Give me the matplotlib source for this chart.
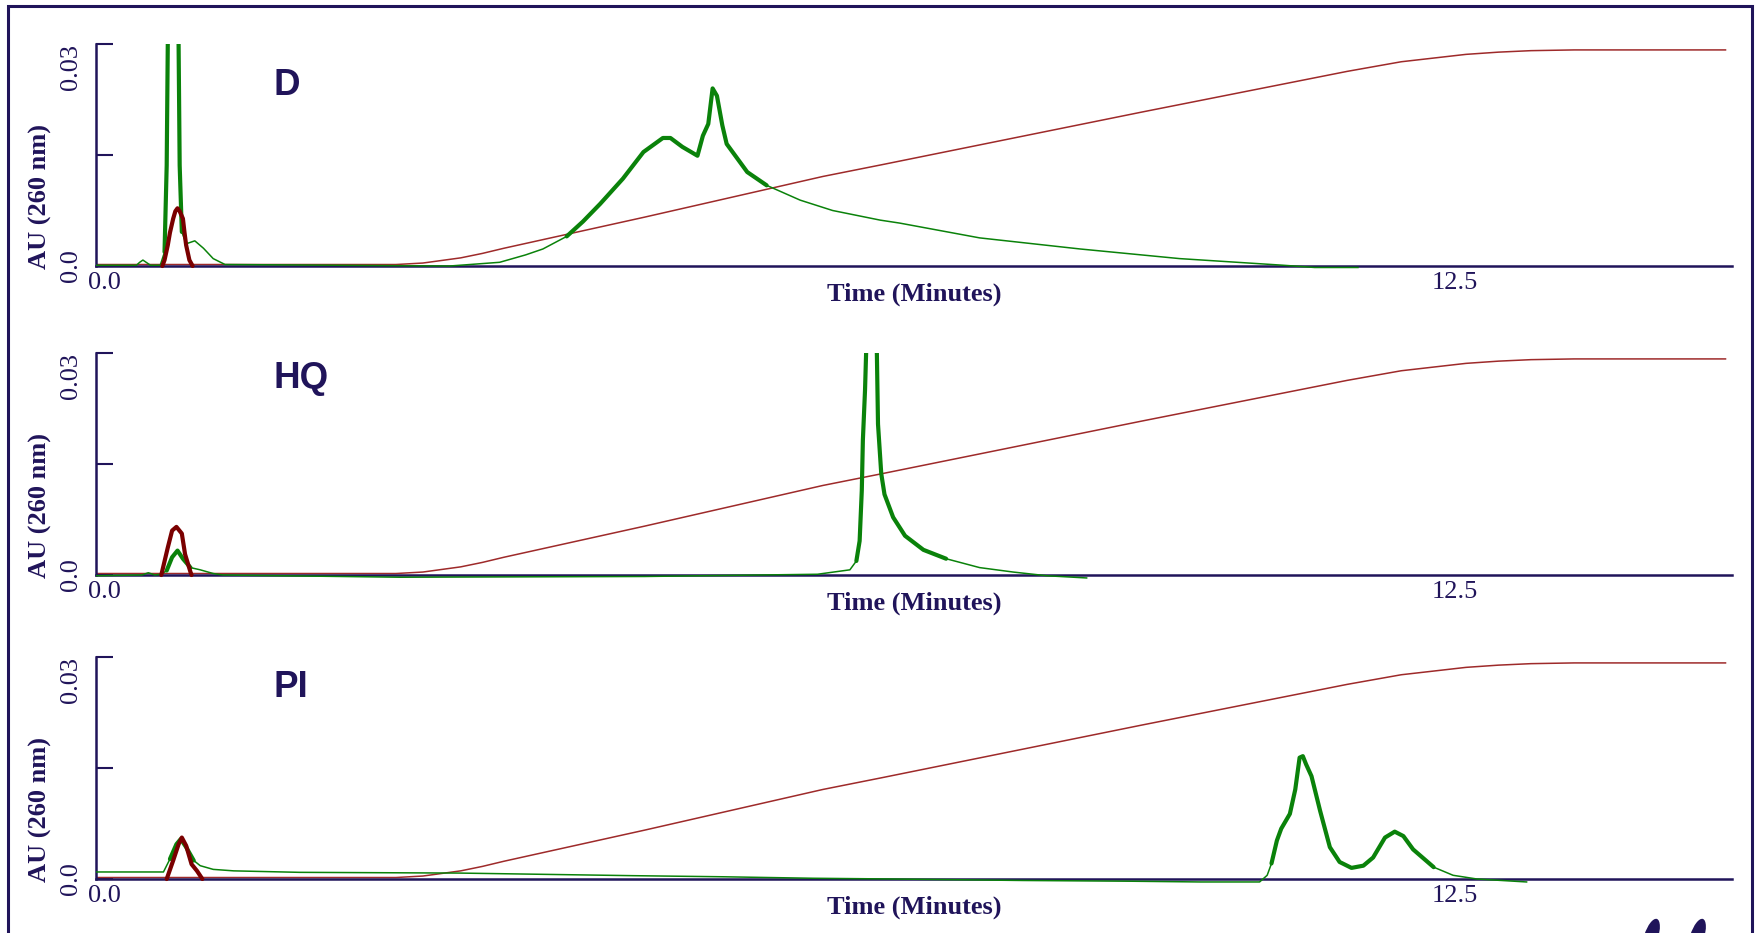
import matplotlib
matplotlib.use("Agg")
import matplotlib.pyplot as plt
import matplotlib.transforms as mtransforms
from matplotlib.patches import Rectangle, Ellipse
import numpy as np

NAVY = "#20145a"
GREEN = "#0a820a"
MAROON = "#7a0000"
GRAD = "#9e2a2a"

panel_names = ["D", "HQ", "PI"]
xtick_values = [0.0, 12.5]
xtick_labels = ["0.0", "12.5"]
ytick_values = [0.0, 0.015, 0.03]
ytick_labels = ["0.0", "", "0.03"]

# % B gradient trace, same run in every panel (plotted on the AU scale)
grad_t = [-0.07, 2.7, 2.95, 3.1, 3.3, 3.5, 3.7, 5.0, 6.65, 7.2, 9.6, 11.5, 12.0, 12.3,
          12.6, 12.9, 13.2, 13.6, 15.0]
grad_au = [0.0002, 0.0002, 0.0004, 0.0007, 0.0011, 0.0017, 0.0024, 0.0066, 0.0121, 0.0137,
           0.0208, 0.0263, 0.0276, 0.0281, 0.0286, 0.0289, 0.0291, 0.0292, 0.0292]

# D
d_green_t = [-0.07, 0.30, 0.33, 0.36, 0.39, 0.43, 0.52, 0.56, 0.58, 0.59, 0.65, 0.69, 0.70,
             0.72, 0.76, 0.84, 0.92, 1.01, 1.12, 3.2, 3.66, 3.9, 4.06, 4.28, 4.43, 4.59,
             4.80, 4.99, 5.17, 5.24, 5.35, 5.49, 5.54, 5.59, 5.63, 5.67, 5.72, 5.76, 5.95,
             6.13, 6.44, 6.74, 7.18, 7.36, 8.10, 9.03, 9.95, 10.91, 11.2, 11.6]
d_green_au = [0.0001, 0.0001, 0.0005, 0.0008, 0.0005, 0.0001, 0.0001, 0.0019, 0.0136, 0.030,
              0.08, 0.030, 0.0136, 0.0046, 0.0030, 0.0034, 0.0024, 0.0010, 0.0002, 0.0,
              0.0005, 0.0015, 0.0023, 0.0040, 0.0060, 0.0084, 0.0118, 0.0154, 0.0173, 0.0173,
              0.0161, 0.0149, 0.0176, 0.0192, 0.0240, 0.0230, 0.0190, 0.0165, 0.0127, 0.0109,
              0.0089, 0.0075, 0.0062, 0.0058, 0.0038, 0.0023, 0.0010, 0.0001, -0.0002, -0.0002]
d_red_t = [0.54, 0.56, 0.59, 0.61, 0.64, 0.66, 0.68, 0.70, 0.73, 0.745, 0.76, 0.79, 0.82]
d_red_au = [0.0, 0.0008, 0.0028, 0.0045, 0.0064, 0.0074, 0.0078, 0.0074, 0.0064, 0.0045,
            0.0028, 0.0008, 0.0]
d_peaks = [(0.55, 0.72), (4.1, 6.15)]

# HQ
hq_green_t = [-0.07, 0.35, 0.41, 0.47, 0.53, 0.58, 0.63, 0.68, 0.73, 0.80, 0.89, 1.01, 1.10,
              2.74, 5.0, 6.6, 6.90, 6.96, 6.99, 7.01, 7.02, 7.04, 7.05, 7.10, 7.15, 7.16,
              7.19, 7.22, 7.30, 7.41, 7.58, 7.79, 8.10, 8.41, 8.72, 9.09]
hq_green_au = [-0.0001, 0.0, 0.0003, 0.0, 0.0001, 0.0006, 0.0024, 0.0033, 0.0022, 0.0010,
               0.0007, 0.0002, 0.0, -0.0003, -0.0002, 0.0001, 0.0007, 0.0019, 0.0046, 0.0114,
               0.0182, 0.0250, 0.0300, 0.07, 0.0295, 0.0204, 0.0137, 0.0109, 0.0078, 0.0053,
               0.0034, 0.0022, 0.0010, 0.0004, -0.0001, -0.0004]
hq_red_t = [0.53, 0.59, 0.63, 0.67, 0.72, 0.75, 0.80, 0.81]
hq_red_au = [0.0, 0.0037, 0.0060, 0.0065, 0.0056, 0.0028, 0.0004, 0.0]
hq_peaks = [(0.56, 0.82), (6.92, 7.97)]

# PI
pi_green_t = [-0.07, 0.55, 0.61, 0.67, 0.71, 0.76, 0.83, 0.89, 1.01, 1.20, 1.81, 3.29, 4.89,
              5.73, 6.56, 7.3, 8.5, 9.5, 10.14, 10.69, 10.76, 10.80, 10.85, 10.89, 10.97,
              11.02, 11.06, 11.09, 11.12, 11.17, 11.25, 11.34, 11.43, 11.54, 11.65, 11.74,
              11.85, 11.94, 12.02, 12.11, 12.30, 12.48, 12.70, 13.16]
pi_green_au = [0.00095, 0.00095, 0.0027, 0.0047, 0.0054, 0.0043, 0.0025, 0.0018, 0.0013,
               0.0011, 0.0009, 0.0008, 0.00045, 0.0003, 0.0001, 0.0, -0.0002, -0.0003,
               -0.0004, -0.0004, 0.0005, 0.0021, 0.0052, 0.0068, 0.0088, 0.0121, 0.0164,
               0.0166, 0.0155, 0.0139, 0.0092, 0.0043, 0.0023, 0.0015, 0.0018, 0.0029,
               0.0056, 0.0064, 0.0058, 0.0040, 0.0016, 0.0005, 0.0, -0.0004]
pi_red_t = [0.58, 0.64, 0.69, 0.72, 0.76, 0.81, 0.86, 0.91]
pi_red_au = [0.0, 0.0025, 0.0047, 0.0056, 0.0045, 0.0020, 0.0011, 0.0]
pi_peaks = [(0.58, 0.86), (10.78, 12.45)]

greens = [(d_green_t, d_green_au), (hq_green_t, hq_green_au), (pi_green_t, pi_green_au)]
reds = [(d_red_t, d_red_au), (hq_red_t, hq_red_au), (pi_red_t, pi_red_au)]
peaks = [d_peaks, hq_peaks, pi_peaks]

W, H = 1756, 933
fig = plt.figure(figsize=(W / 100, H / 100), dpi=100)
fig.patch.set_facecolor("white")

serif = "Liberation Serif"
sans = "Liberation Sans"

ymin, ymax = -0.0012, 0.03
px_per_au = 222 / 0.03
ax_h = (ymax - ymin) * px_per_au
tops = [44, 353, 657]
title_drop = [51, 35, 40]
left_px, right_px = 96, 1732

for i, name in enumerate(panel_names):
    top = tops[i]
    ax = fig.add_axes([left_px / W, 1 - (top + ax_h) / H, (right_px - left_px) / W, ax_h / H])
    ax.set_xlim(-0.074, 15.06)
    ax.set_ylim(ymin, ymax)

    ax.plot(grad_t, grad_au, color=GRAD, lw=1.1, zorder=2)

    gt, ga = np.array(greens[i][0]), np.array(greens[i][1])
    ax.plot(gt, ga, color=GREEN, lw=1.1, zorder=3)
    for lo, hi in peaks[i]:
        m = (gt >= lo) & (gt <= hi)
        ax.plot(gt[m], ga[m], color=GREEN, lw=3.0, zorder=4,
                solid_joinstyle="round", solid_capstyle="round")

    ax.plot(reds[i][0], reds[i][1], color=MAROON, lw=3.0, zorder=5,
            solid_joinstyle="round", solid_capstyle="round")

    for s in ["top", "right"]:
        ax.spines[s].set_visible(False)
    ax.spines["bottom"].set_position(("data", 0))
    ax.spines["left"].set_bounds(0, 0.03)
    for s in ["bottom", "left"]:
        ax.spines[s].set_color(NAVY)
        ax.spines[s].set_linewidth(1.8)

    ax.set_xticks(xtick_values)
    ax.set_xticklabels(xtick_labels, fontsize=19, family=serif, color=NAVY)
    ax.tick_params(axis="x", length=0, pad=4)

    ax.set_yticks(ytick_values)
    ax.set_yticklabels(ytick_labels, fontsize=19, family=serif, color=NAVY, rotation=90)
    ax.tick_params(axis="y", direction="in", length=12, width=1.5, color=NAVY, pad=10)
    for lab, v in zip(ax.get_yticklabels(), ytick_values):
        lab.set_va("top" if v == 0.03 else "center")

    ax.set_xlabel("Time (Minutes)", fontsize=19, family=serif, fontweight="bold", color=NAVY)
    ax.xaxis.set_label_coords(0.5, -0.035)

    trans = mtransforms.blended_transform_factory(ax.transAxes, ax.transData)
    ax.text(-0.034, -0.0004, "AU (260 nm)", transform=trans, rotation=90,
            ha="center", va="bottom", fontsize=19, family=serif, fontweight="bold", color=NAVY)

    ax.text((274 - left_px) / (right_px - left_px), 1 - title_drop[i] / ax_h, name,
            transform=ax.transAxes, ha="left", va="baseline", fontsize=26.5,
            family=sans, fontweight="bold", color=NAVY)

# outer frame
fig.add_artist(Rectangle((8 / W, -0.1), (1752 - 8) / W, 1.1 - 6.5 / H,
                         transform=fig.transFigure, fill=False, ec=NAVY, lw=2.2))

# top of the logo strokes showing at the lower edge (pixel coords)
for xc in [1651, 1697]:
    fig.add_artist(Ellipse((xc, -4), 14, 38, angle=-18, fc=NAVY, ec="none",
                           transform=mtransforms.IdentityTransform()))

fig.savefig("out.png", dpi=100)
